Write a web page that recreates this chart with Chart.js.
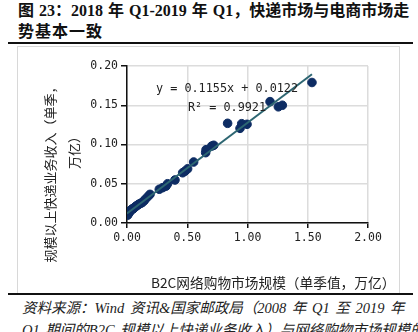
<!DOCTYPE html>
<html>
<head>
<meta charset="utf-8">
<script src="https://cdn.jsdelivr.net/npm/chart.js@4.4.1/dist/chart.umd.min.js"></script>
<style>
  html, body { margin: 0; padding: 0; background: #fff; }
  body { width: 418px; height: 332px; overflow: hidden; position: relative; }
  .title { position: absolute; left: 18px; top: 0px; width: 400px; font: bold 16px "Liberation Serif", "Noto Sans CJK SC", serif; line-height: 21px; word-spacing: 1px; color: #111; white-space: nowrap; }
  .title span { letter-spacing: 1px; }
  .rule { position: absolute; left: 8px; width: 405px; height: 2px; background: #111; }
  .box { position: absolute; left: 17px; top: 46px; width: 381px; height: 246px; border: 1px solid #d8d8d8; }
  .foot { position: absolute; left: 22px; top: 297px; width: 396px; font: italic 14.5px "Liberation Serif", "Noto Sans CJK SC", serif; line-height: 22px; word-spacing: 2px; color: #222; white-space: nowrap; }
  canvas { display: block; }
</style>
</head>
<body>
<div class="title">图 23：2018 年 Q1-2019 年 Q1，快递市场与电商市场走<br><span>势基本一致</span></div>
<div class="rule" style="top:42px"></div>
<div class="box"><canvas id="c" width="381" height="246"></canvas></div>
<div class="rule" style="top:293px"></div>
<div class="foot">资料来源：Wind 资讯&amp;国家邮政局（2008 年 Q1 至 2019 年<br>Q1 期间的B2C 规模以上快递业务收入）与网络购物市场规模的</div>
<script>
// B2C 网络购物市场规模（单季值，万亿）
const b2c = [0.005,0.008,0.010,0.013,0.016,0.020,0.024,0.028,0.033,0.038,0.044,0.050,0.057,0.064,0.072,0.080,0.090,0.100,0.112,0.125,0.140,0.150,0.172,0.191,0.268,0.296,0.324,0.337,0.398,0.462,0.481,0.503,0.553,0.653,0.656,0.703,0.720,0.835,0.938,0.952,0.996,1.187,1.256,1.289,1.535];
// 规模以上快递业务收入（单季，万亿）
const express = [0.010,0.011,0.012,0.013,0.013,0.014,0.015,0.016,0.016,0.017,0.018,0.018,0.019,0.020,0.021,0.022,0.023,0.024,0.025,0.026,0.028,0.030,0.0335,0.0365,0.043,0.045,0.047,0.050,0.0548,0.064,0.066,0.069,0.0777,0.0896,0.0934,0.098,0.099,0.127,0.1206,0.1265,0.1257,0.1546,0.148,0.150,0.179];
// trendline endpoints as drawn
const trendX = [0, 1.535];
const trendY = [0.0122, 0.1895];
const xTicks = [0, 0.5, 1.0, 1.5, 2.0];
const yTicks = [0, 0.05, 0.10, 0.15, 0.20];
const eqText = ['y = 0.1155x + 0.0122', 'R² = 0.9921'];
const xTitle = 'B2C网络购物市场规模（单季值，万亿）';
const yTitle = ['规模以上快递业务收入（单季，', '万亿）'];

const mono = '"DejaVu Sans Mono", monospace';
const cjk = '"Noto Sans CJK SC", sans-serif';

const textPlugin = {
  id: 'texts',
  afterDraw(chart) {
    const ctx = chart.ctx;
    const a = chart.chartArea;
    ctx.save();
    ctx.fillStyle = '#222';
    ctx.textBaseline = 'middle';
    ctx.textAlign = 'center';
    ctx.font = '11.8px ' + mono;
    const cx = chart.scales.x.getPixelForValue(0.83);
    ctx.fillText(eqText[0], cx, a.top + 23);
    ctx.fillText(eqText[1], cx, a.top + 42);
    ctx.font = '13.7px ' + cjk;
    ctx.textAlign = 'left';
    ctx.fillText(xTitle, 133, a.bottom + 60);
    ctx.translate(32, (a.top + a.bottom) / 2 + 27);
    ctx.rotate(-Math.PI / 2);
    ctx.font = '13px ' + cjk;
    ctx.textAlign = 'center';
    ctx.fillText(yTitle[0], 0, 0);
    ctx.fillText(yTitle[1], 22, 24);
    ctx.restore();
  }
};

new Chart(document.getElementById('c'), {
  type: 'scatter',
  data: {
    datasets: [
      {
        type: 'line',
        data: trendX.map((x, i) => ({ x, y: trendY[i] })),
        borderColor: '#2d6672',
        borderWidth: 2,
        pointRadius: 0,
        order: 0
      },
      {
        data: b2c.map((x, i) => ({ x, y: express[i] })),
        backgroundColor: '#0d2c63',
        borderColor: '#0d2c63',
        pointRadius: 4.3,
        order: 1
      }
    ]
  },
  options: {
    responsive: false,
    animation: false,
    layout: { padding: { top: 19, right: 31, left: 0, bottom: 0 } },
    plugins: { legend: { display: false }, tooltip: { enabled: false } },
    scales: {
      x: {
        type: 'linear', min: 0, max: 2,
        afterBuildTicks: s => { s.ticks = xTicks.map(v => ({ value: v })); },
        afterFit: s => { s.height = 70; },
        ticks: { font: { family: mono, size: 11.5 }, color: '#222', padding: 3, callback: v => v.toFixed(2), maxRotation: 0 },
        grid: { color: '#dcdcdc', lineWidth: 1.5, tickColor: '#111', tickLength: 5 },
        border: { color: '#111', width: 1.5 }
      },
      y: {
        type: 'linear', min: 0, max: 0.2,
        afterBuildTicks: s => { s.ticks = yTicks.map(v => ({ value: v })); },
        afterFit: s => { s.width = 109; },
        ticks: { font: { family: mono, size: 11.5 }, color: '#222', padding: 3, callback: v => v.toFixed(2) },
        grid: { color: '#dcdcdc', lineWidth: 1.5, tickColor: '#111', tickLength: 6 },
        border: { color: '#111', width: 1.5 }
      }
    }
  },
  plugins: [textPlugin]
});
</script>
</body>
</html>
